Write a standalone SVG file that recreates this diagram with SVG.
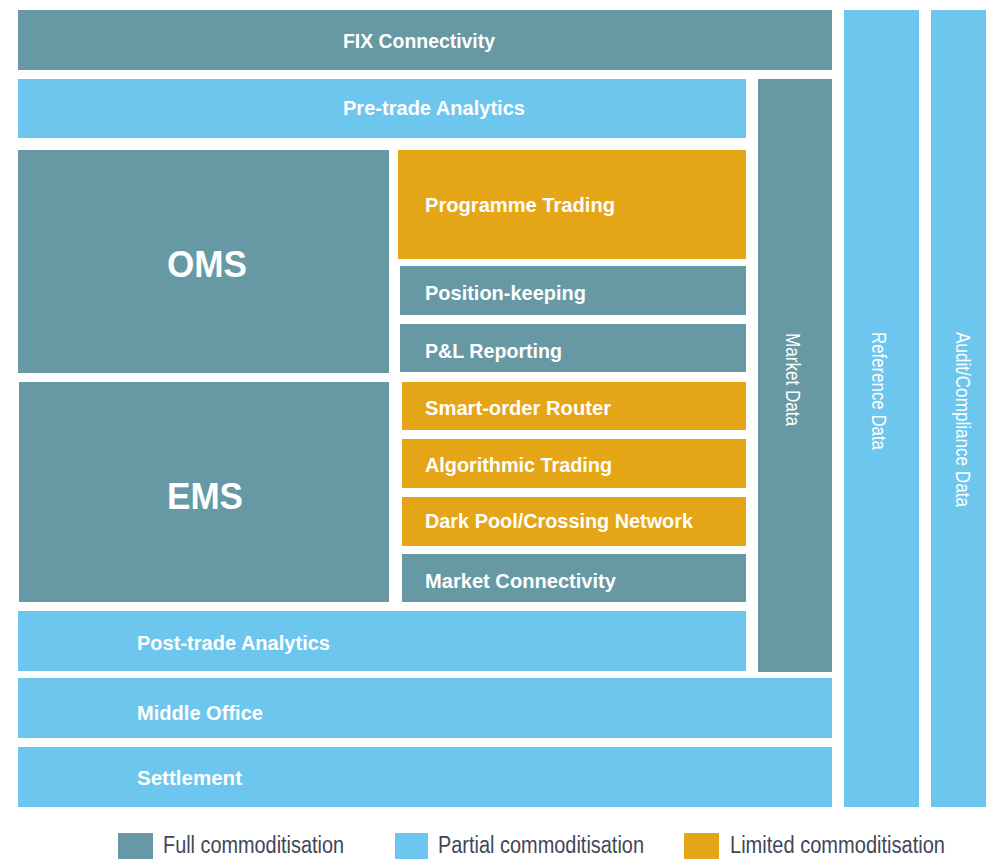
<svg xmlns="http://www.w3.org/2000/svg" width="986" height="859" viewBox="0 0 986 859">
<style>
.full{fill:#6699A3}
.part{fill:#6DC6EE}
.lim{fill:#E4A516}
.lbl{font-family:"Liberation Sans",Arial,sans-serif;font-weight:bold;font-size:20px;fill:#ffffff}
.big{font-family:"Liberation Sans",Arial,sans-serif;font-weight:bold;font-size:36px;fill:#ffffff}
.vert{font-family:"Liberation Sans",Arial,sans-serif;font-size:21px;fill:#ffffff}
.leg{font-family:"Liberation Sans",Arial,sans-serif;font-size:23px;fill:#3F4758}
</style>
<rect width="986" height="859" fill="#ffffff"/>
<g id="fix-connectivity"><rect class="full" x="18" y="10" width="814" height="60"/><text class="lbl" x="343" y="48" font-size="18" textLength="152" lengthAdjust="spacingAndGlyphs">FIX Connectivity</text></g>
<g id="pre-trade-analytics"><rect class="part" x="18" y="79" width="728" height="59"/><text class="lbl" x="343" y="115" textLength="182" lengthAdjust="spacingAndGlyphs">Pre-trade Analytics</text></g>
<g id="oms"><rect class="full" x="18" y="150" width="371" height="223"/><text class="big" x="167" y="277" textLength="80" lengthAdjust="spacingAndGlyphs">OMS</text></g>
<g id="ems"><rect class="full" x="19" y="382" width="370" height="220"/><text class="big" x="167" y="509" textLength="76" lengthAdjust="spacingAndGlyphs">EMS</text></g>
<g id="programme-trading"><rect class="lim" x="398" y="150" width="348" height="109"/><text class="lbl" x="425" y="212" textLength="190" lengthAdjust="spacingAndGlyphs">Programme Trading</text></g>
<g id="position-keeping"><rect class="full" x="400" y="266" width="346" height="49"/><text class="lbl" x="425" y="300" textLength="161" lengthAdjust="spacingAndGlyphs">Position-keeping</text></g>
<g id="pl-reporting"><rect class="full" x="400" y="324" width="346" height="48"/><text class="lbl" x="425" y="358" textLength="137" lengthAdjust="spacingAndGlyphs">P&amp;L Reporting</text></g>
<g id="smart-order-router"><rect class="lim" x="402" y="382" width="344" height="48"/><text class="lbl" x="425" y="415" textLength="186" lengthAdjust="spacingAndGlyphs">Smart-order Router</text></g>
<g id="algorithmic-trading"><rect class="lim" x="402" y="439" width="344" height="49"/><text class="lbl" x="425" y="472" textLength="187" lengthAdjust="spacingAndGlyphs">Algorithmic Trading</text></g>
<g id="dark-pool"><rect class="lim" x="402" y="497" width="344" height="49"/><text class="lbl" x="425" y="528" textLength="268" lengthAdjust="spacingAndGlyphs">Dark Pool/Crossing Network</text></g>
<g id="market-connectivity"><rect class="full" x="402" y="554" width="344" height="48"/><text class="lbl" x="425" y="588" textLength="191" lengthAdjust="spacingAndGlyphs">Market Connectivity</text></g>
<g id="post-trade-analytics"><rect class="part" x="18" y="611" width="728" height="60"/><text class="lbl" x="137" y="650" textLength="193" lengthAdjust="spacingAndGlyphs">Post-trade Analytics</text></g>
<g id="market-data"><rect class="full" x="758" y="79" width="74" height="593"/><text class="vert" transform="translate(786,333) rotate(90)" x="0" y="0" textLength="93" lengthAdjust="spacingAndGlyphs">Market Data</text></g>
<g id="middle-office"><rect class="part" x="18" y="678" width="814" height="60"/><text class="lbl" x="137" y="720" textLength="126" lengthAdjust="spacingAndGlyphs">Middle Office</text></g>
<g id="settlement"><rect class="part" x="18" y="747" width="814" height="60"/><text class="lbl" x="137" y="785" textLength="105" lengthAdjust="spacingAndGlyphs">Settlement</text></g>
<g id="reference-data"><rect class="part" x="844" y="10" width="75" height="797"/><text class="vert" transform="translate(872,332) rotate(90)" x="0" y="0" textLength="118" lengthAdjust="spacingAndGlyphs">Reference Data</text></g>
<g id="audit-compliance-data"><rect class="part" x="931" y="10" width="55" height="797"/><text class="vert" transform="translate(956,332) rotate(90)" x="0" y="0" textLength="175" lengthAdjust="spacingAndGlyphs">Audit/Compliance Data</text></g>
<g id="legend">
<rect class="full" x="118" y="833" width="35" height="26"/><text class="leg" x="163" y="853" textLength="181" lengthAdjust="spacingAndGlyphs">Full commoditisation</text>
<rect class="part" x="395" y="833" width="33" height="26"/><text class="leg" x="438" y="853" textLength="206" lengthAdjust="spacingAndGlyphs">Partial commoditisation</text>
<rect class="lim" x="684" y="833" width="35" height="26"/><text class="leg" x="730" y="853" textLength="215" lengthAdjust="spacingAndGlyphs">Limited commoditisation</text>
</g>
</svg>
